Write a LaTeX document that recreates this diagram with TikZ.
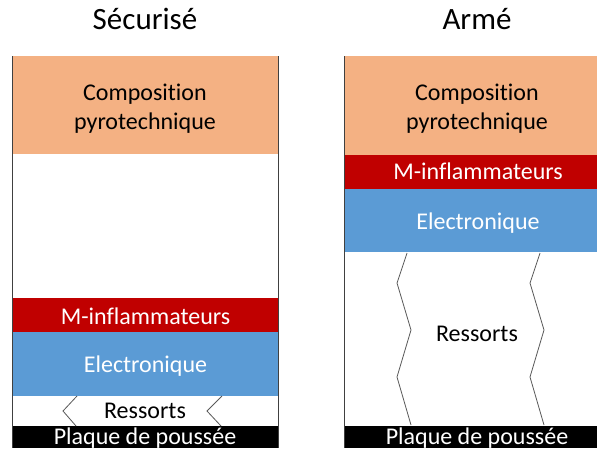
\documentclass[tikz,border=0pt]{standalone}
\usepackage{fontspec}
\setmainfont[RawFeature={-liga;-clig;-dlig;-calt}]{Carlito}
\definecolor{pyro}{HTML}{F4B183}
\definecolor{infl}{HTML}{C00000}
\definecolor{elec}{HTML}{5B9BD5}
\definecolor{wall}{HTML}{404040}
\definecolor{spring}{HTML}{595959}
\tikzset{
  boxtxt/.style={anchor=base, inner sep=0pt, font=\fontsize{24}{29}\selectfont, align=center},
  wtxt/.style={boxtxt, text=white},
  title/.style={anchor=base, inner sep=0pt, font=\fontsize{31}{36}\selectfont},
  wallline/.style={draw=wall, line width=1pt},
  springline/.style={draw=spring, line width=0.8pt, line join=miter},
}
\begin{document}
\begin{tikzpicture}[x=1pt,y=-1pt]
\clip (0,0) rectangle (597,448);
\fill[white] (0,0) rectangle (597,448);
% titles
\node[title] (t1) at (145,29) {Sécurisé};
\node[title] (t2) at (477,29) {Armé};
% ---- left: Securise
\fill[pyro] (12,56) rectangle (279,154);
\fill[infl] (12,298) rectangle (279,332);
\fill[elec] (12,332) rectangle (279,396);
\fill[black] (12,426) rectangle (279,448);
\draw[wallline] (12,56) -- (12,448);
\draw[wallline] (278.5,56) -- (278.5,448);
\node[boxtxt] (l1) at (145,100) {Composition};
\node[boxtxt] (l2) at (145,129) {pyrotechnique};
\node[wtxt] (l3) at (145.5,324) {M-inflammateurs};
\node[wtxt] (l4) at (145.5,372.5) {Electronique};
\node[boxtxt] (l5) at (145,418) {Ressorts};
\node[wtxt] (l6) at (145,444) {Plaque de poussée};
\draw[springline] (77,396) -- (63,411) -- (76,426);
\draw[springline] (222,396) -- (207,411) -- (221,426);
% ---- right: Arme
\fill[pyro] (344,56) rectangle (610,155);
\fill[infl] (344,155) rectangle (610,189);
\fill[elec] (344,189) rectangle (610,252);
\fill[black] (344,426) rectangle (610,448);
\draw[wallline] (344,56) -- (344,448);
\node[boxtxt] (r1) at (477,100) {Composition};
\node[boxtxt] (r2) at (477,129) {pyrotechnique};
\node[wtxt] (r3) at (478,179.5) {M-inflammateurs};
\node[wtxt] (r4) at (478,229) {Electronique};
\node[boxtxt] (r5) at (477,341) {Ressorts};
\node[wtxt] (r6) at (477,444) {Plaque de poussée};
\draw[springline] (407,253) -- (397,283) -- (411,330) -- (397,377) -- (411,425);
\draw[springline] (540,253) -- (530,283) -- (544,330) -- (530,377) -- (544,425);
\end{tikzpicture}
\end{document}
